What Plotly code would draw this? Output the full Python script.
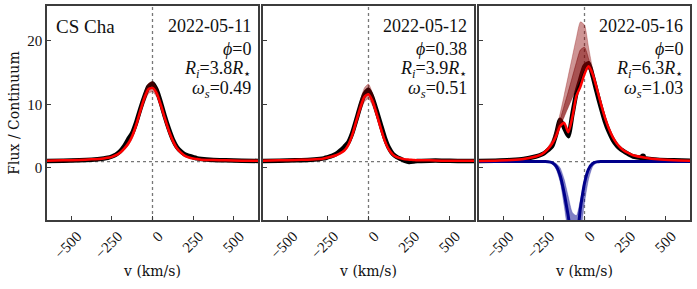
import plotly.graph_objects as go

# ---------------- data ----------------
v = [-650, -550, -450, -375, -300, -275, -250, -225, -200, -175, -150, -125, -100,
     -75, -50, -25, 0, 25, 50, 75, 100, 125, 150, 175, 200, 225, 250, 275, 300,
     375, 450, 550, 650]

# 2022-05-11
obs1 = [1.1, 1.15, 1.2, 1.3, 1.5, 1.6, 1.8, 2.1, 2.6, 3.4, 4.5, 5.5, 7.2,
        9.3, 11.2, 12.8, 13.3, 12.3, 10.4, 8.2, 6.2, 4.5, 3.3, 2.6, 2.1, 1.9, 1.7, 1.5, 1.4,
        1.25, 1.2, 1.15, 1.1]
mod1 = [1.15, 1.2, 1.25, 1.35, 1.5, 1.6, 1.75, 2.0, 2.4, 3.0, 3.8, 5.0, 6.8,
        9.0, 11.0, 12.4, 12.6, 11.8, 10.0, 7.9, 5.9, 4.3, 3.1, 2.4, 1.9, 1.65, 1.5, 1.4, 1.3,
        1.25, 1.2, 1.15, 1.15]
hi1 = [1.2, 1.25, 1.3, 1.4, 1.6, 1.7, 1.85, 2.15, 2.6, 3.3, 4.2, 5.5, 7.4,
       9.7, 11.8, 13.3, 13.6, 12.6, 10.7, 8.5, 6.4, 4.7, 3.4, 2.6, 2.05, 1.75, 1.6, 1.45, 1.35,
       1.3, 1.25, 1.2, 1.2]
lo1 = [1.1, 1.15, 1.2, 1.3, 1.45, 1.5, 1.65, 1.9, 2.25, 2.8, 3.5, 4.6, 6.3,
       8.4, 10.3, 11.7, 12.0, 11.2, 9.4, 7.4, 5.5, 4.0, 2.9, 2.25, 1.8, 1.55, 1.45, 1.35, 1.25,
       1.2, 1.15, 1.1, 1.1]

# 2022-05-12
obs2 = [1.1, 1.15, 1.2, 1.25, 1.4, 1.5, 1.7, 1.9, 2.2, 2.7, 3.3, 4.0, 5.5,
        7.6, 9.8, 11.6, 12.3, 11.0, 9.0, 6.9, 4.8, 3.2, 2.2, 1.7, 1.4, 1.1, 0.95, 1.0, 1.1,
        1.15, 1.15, 1.1, 1.1]
mod2 = [1.15, 1.2, 1.25, 1.3, 1.4, 1.5, 1.65, 1.8, 2.0, 2.3, 2.7, 3.6, 5.2,
        7.4, 9.5, 11.2, 11.6, 10.5, 8.5, 6.3, 4.3, 2.9, 2.1, 1.7, 1.5, 1.35, 1.3, 1.25, 1.2,
        1.2, 1.15, 1.15, 1.15]
hi2 = [1.2, 1.25, 1.3, 1.35, 1.45, 1.55, 1.7, 1.9, 2.1, 2.45, 2.9, 3.9, 5.7,
       8.1, 10.6, 12.6, 13.2, 11.7, 9.3, 6.9, 4.7, 3.1, 2.25, 1.8, 1.55, 1.4, 1.35, 1.3, 1.25,
       1.2, 1.2, 1.2, 1.2]
lo2 = [1.1, 1.15, 1.2, 1.25, 1.35, 1.45, 1.6, 1.75, 1.9, 2.2, 2.55, 3.3, 4.8,
       6.8, 8.8, 10.4, 10.9, 9.8, 7.9, 5.8, 3.9, 2.7, 1.95, 1.6, 1.45, 1.3, 1.25, 1.2, 1.15,
       1.15, 1.1, 1.1, 1.1]

# 2022-05-16
obs3 = [1.1, 1.15, 1.25, 1.4, 1.8, 2.0, 2.3, 2.8, 3.4, 5.3, 7.6, 6.3, 5.0,
        8.4, 11.8, 14.0, 16.0, 16.5, 14.5, 12.0, 9.6, 7.4, 5.7, 4.4, 3.5, 2.9, 2.5, 2.1, 1.8,
        1.5, 1.3, 1.2, 1.15]
mod3 = [1.1, 1.15, 1.25, 1.4, 1.8, 2.0, 2.4, 3.0, 3.8, 5.0, 6.6, 7.1, 5.6,
        8.0, 11.3, 12.8, 14.8, 16.0, 14.8, 12.6, 10.2, 8.0, 6.2, 4.8, 3.8, 3.1, 2.6, 2.3, 2.0,
        1.6, 1.35, 1.2, 1.15]
hi3 = [1.15, 1.2, 1.3, 1.45, 1.9, 2.15, 2.6, 3.3, 4.4, 6.1, 8.6, 11.5, 14.5,
       17.5, 20.5, 23.0, 22.5, 19.0, 15.6, 13.0, 10.6, 8.3, 6.4, 5.0, 3.95, 3.2, 2.7, 2.35, 2.05,
       1.65, 1.4, 1.25, 1.2]
mid3 = [1.12, 1.17, 1.25, 1.4, 1.8, 2.05, 2.45, 3.05, 4.0, 5.5, 7.6, 9.8, 12.0,
        14.3, 16.6, 18.6, 19.0, 17.2, 15.0, 12.6, 10.3, 8.0, 6.2, 4.8, 3.8, 3.1, 2.6, 2.25, 2.0,
        1.6, 1.35, 1.2, 1.15]
lo3 = [1.1, 1.15, 1.2, 1.35, 1.7, 1.9, 2.25, 2.8, 3.6, 4.8, 6.6, 8.0, 9.5,
       11.0, 12.5, 14.0, 15.5, 15.5, 14.3, 12.2, 9.9, 7.8, 6.0, 4.6, 3.7, 3.0, 2.5, 2.2, 1.95,
       1.55, 1.3, 1.15, 1.1]
abs3 = [1.0, 1.0, 1.0, 1.0, 1.0, 1.0, 1.0, 0.99, 0.85, 0.3, -1.2, -4.0, -7.6,
        -11.0, -10.8, -6.3, -2.4, -0.2, 0.7, 0.95, 1.0, 1.0, 1.0, 1.0, 1.0, 1.0, 1.0, 1.0, 1.0,
        1.0, 1.0, 1.0, 1.0]
abs3_lo = [1.0, 1.0, 1.0, 1.0, 1.0, 1.0, 1.0, 0.97, 0.7, -0.2, -2.2, -6.0, -10.5,
           -14.0, -14.0, -10.5, -5.5, -1.8, 0.2, 0.8, 0.97, 1.0, 1.0, 1.0, 1.0, 1.0, 1.0, 1.0, 1.0,
           1.0, 1.0, 1.0, 1.0]
abs3_hi = [1.0, 1.0, 1.0, 1.0, 1.0, 1.0, 1.0, 1.0, 0.95, 0.7, 0.0, -1.8, -4.5,
           -7.0, -7.5, -5.0, -2.0, 0.0, 0.8, 1.0, 1.0, 1.0, 1.0, 1.0, 1.0, 1.0, 1.0, 1.0, 1.0,
           1.0, 1.0, 1.0, 1.0]
spike_v = [360]
spike_f = [1.8]

dates = ["2022-05-11", "2022-05-12", "2022-05-16"]
phis = ["0", "0.38", "0"]
radii = ["3.8", "3.9", "6.3"]
omegas = ["0.49", "0.51", "1.03"]

x_ticks = [-500, -250, 0, 250, 500]
x_ticktext = ["\u2212500", "\u2212250", "0", "250", "500"]
y_ticks = [0, 10, 20]

# ---------------- figure ----------------
FONT_A = "Liberation Serif, 'Times New Roman', 'DejaVu Serif', serif"  # ticks, annotations
FONT_T = "DejaVu Serif"            # axis titles
TXT = "#111"
SPL = dict(shape="spline", smoothing=0.6)
fig = go.Figure()


def add(x, y, xa, ya, **kw):
    fig.add_trace(go.Scatter(x=x, y=y, xaxis=xa, yaxis=ya, showlegend=False,
                             hoverinfo="skip", **kw))


panels = [(obs1, mod1, hi1, lo1, None), (obs2, mod2, hi2, lo2, None),
          (obs3, mod3, hi3, lo3, mid3)]
for i, (obs, mod, hi, lo, mid) in enumerate(panels):
    xa = "x" if i == 0 else f"x{i+1}"
    ya = "y" if i == 0 else f"y{i+1}"
    add(v, obs, xa, ya, mode="lines", line=dict(color="black", width=4.5, **SPL))
    add(v, lo, xa, ya, mode="lines", line=dict(color="rgba(139,0,0,0.35)", width=0.7, **SPL))
    add(v, hi, xa, ya, mode="lines", fill="tonexty", fillcolor="rgba(139,0,0,0.42)",
        line=dict(color="rgba(139,0,0,0.4)", width=0.7, **SPL))
    if mid is not None:
        add(v, lo, xa, ya, mode="lines", line=dict(color="rgba(120,0,0,0.0)", width=0.5, **SPL))
        add(v, mid, xa, ya, mode="lines", fill="tonexty", fillcolor="rgba(120,0,0,0.45)",
            line=dict(color="rgba(120,0,0,0.55)", width=0.8, **SPL))
    if i == 2:
        add(spike_v, spike_f, xa, ya, mode="markers", marker=dict(color="black", size=6))
        add(v, abs3_hi, xa, ya, mode="lines",
            line=dict(color="rgba(0,0,139,0.35)", width=0.7, **SPL))
        add(v, abs3_lo, xa, ya, mode="lines", fill="tonexty", fillcolor="rgba(0,0,139,0.5)",
            line=dict(color="rgba(0,0,139,0.35)", width=0.7, **SPL))
        add(v, abs3, xa, ya, mode="lines", line=dict(color="#00008b", width=3, **SPL))
    add(v, mod, xa, ya, mode="lines", line=dict(color="#ff0000", width=2.5, **SPL))

W = 643.0
domains = [[0, 211 / W], [216 / W, 427 / W], [432 / W, 1.0]]
axis_common = dict(showline=True, mirror=True, linecolor="#3c3c3c", linewidth=1.5,
                   ticks="inside", ticklen=4, tickwidth=1, tickcolor="#3c3c3c",
                   showgrid=False, zeroline=False)
layout = dict(width=697, height=289, margin=dict(l=47, r=7, t=6, b=69),
              paper_bgcolor="white", plot_bgcolor="white",
              font=dict(family=FONT_A, color=TXT, size=15))
for i in range(3):
    xk = "xaxis" if i == 0 else f"xaxis{i+1}"
    yk = "yaxis" if i == 0 else f"yaxis{i+1}"
    ya = "y" if i == 0 else f"y{i+1}"
    xa = "x" if i == 0 else f"x{i+1}"
    layout[xk] = dict(domain=domains[i], range=[-650, 650], anchor=ya,
                      tickvals=x_ticks, ticktext=x_ticktext, tickangle=-45,
                      ticklabelshift=6,
                      tickfont=dict(family=FONT_A, size=15, color=TXT),
                      title=dict(text="v (km/s)", font=dict(family=FONT_T, size=14, color=TXT), standoff=6),
                      automargin=False, **axis_common)
    ydict = dict(domain=[0, 1], range=[-8.2, 25.5], anchor=xa, tickvals=y_ticks,
                 tickfont=dict(family=FONT_A, size=15, color=TXT), automargin=False, **axis_common)
    if i == 0:
        ydict["title"] = dict(text="Flux / Continuum", font=dict(family=FONT_T, size=14, color=TXT), standoff=4)
    else:
        ydict["showticklabels"] = False
        ydict["matches"] = "y"
    layout[yk] = ydict
fig.update_layout(**layout)

# reference lines
for i in range(3):
    xa = "x" if i == 0 else f"x{i+1}"
    ya = "y" if i == 0 else f"y{i+1}"
    fig.add_shape(type="line", xref=f"{xa} domain", yref=ya, x0=0, x1=1, y0=1, y1=1,
                  line=dict(color="#777", width=1.3, dash="dot"), layer="below")
    fig.add_shape(type="line", xref=xa, yref=f"{ya} domain", x0=0, x1=0, y0=0, y1=1,
                  line=dict(color="#777", width=1.3, dash="dot"), layer="below")

# annotations
for i in range(3):
    xa = "x" if i == 0 else f"x{i+1}"
    ya = "y" if i == 0 else f"y{i+1}"
    lines = [dates[i],
             f"<i>\u03d5</i>={phis[i]}",
             f"<i>R<sub>i</sub></i>={radii[i]}<i>R</i><sub>\u22c6</sub>",
             f"<i>\u03c9<sub>s</sub></i>={omegas[i]}"]
    ys = [0.905, 0.80, 0.705, 0.61]
    for t, yy in zip(lines, ys):
        fig.add_annotation(text=t, xref=f"{xa} domain", yref=f"{ya} domain", x=0.975, y=yy,
                           xanchor="right", yanchor="middle", showarrow=False,
                           font=dict(family=FONT_A, size=18, color=TXT))
fig.add_annotation(text="CS Cha", xref="x domain", yref="y domain", x=0.035, y=0.905,
                   xanchor="left", yanchor="middle", showarrow=False,
                   font=dict(family=FONT_A, size=19, color=TXT))

fig.write_html("out.html", config={"displayModeBar": False},
               post_script="document.body.style.margin='0';")
